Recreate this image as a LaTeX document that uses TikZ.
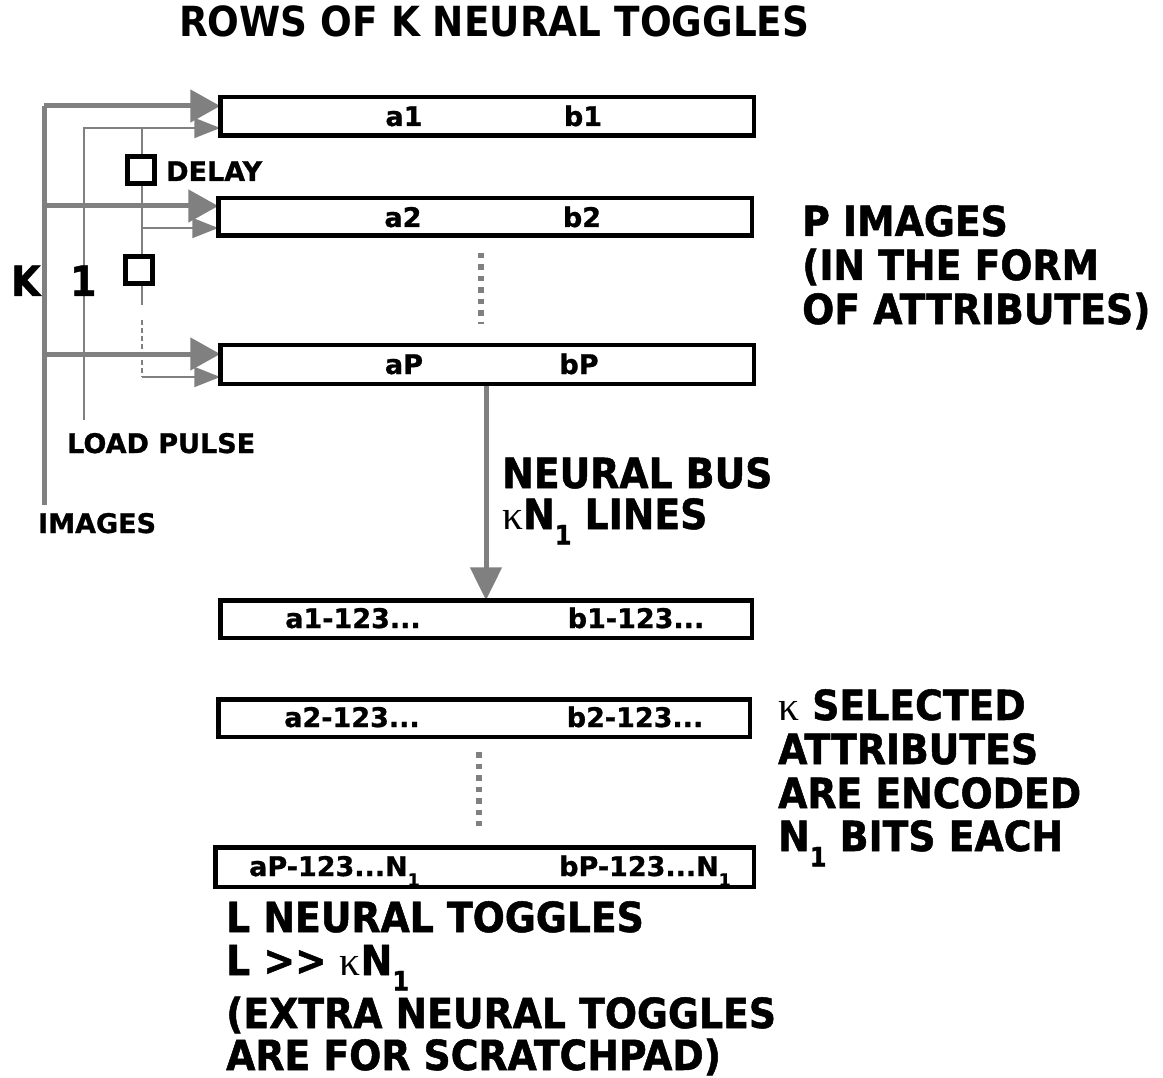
\documentclass[tikz,border=0pt]{standalone}
\usepackage{fontspec}
\usepackage{graphicx}
\setmainfont{DejaVu Sans}[FakeBold=1]
\newfontfamily\bigfont{DejaVu Sans}[FakeStretch=0.91,FakeBold=1.2]
\newfontfamily\titlefont{DejaVu Sans}[FakeStretch=0.9]
\newfontfamily\kapfont{Liberation Serif}
\usetikzlibrary{arrows.meta}
\definecolor{wire}{HTML}{808080}
\newcommand\kap{{\kapfont\mdseries κ}}
\newcommand\subone{\raisebox{-0.37em}{\scalebox{0.64}{1}}}
\tikzset{
  big/.style={font=\bigfont\bfseries\fontsize{41.5}{45}\selectfont, inner sep=0pt, anchor=base west},
  titlestyle/.style={font=\titlefont\bfseries\fontsize{41.5}{45}\selectfont, inner sep=0pt, anchor=base west},
  small/.style={font=\bfseries\fontsize{27}{30}\selectfont, inner sep=0pt},
  reg/.style={inner sep=0pt, outer sep=0pt},
  regline/.style={draw=black, line width=4.5pt, fill=white},
  delaybox/.style={draw=black, line width=5pt, fill=white, minimum size=27pt, inner sep=0pt, outer sep=0pt},
  thickwire/.style={draw=wire, line width=5pt},
  thinwire/.style={draw=wire, line width=2pt},
  bigtip/.style={-{Triangle[length=30pt,width=32pt]}, color=wire},
  smalltip/.style={-{Triangle[length=26pt,width=20pt]}, color=wire},
  bustip/.style={-{Triangle[length=33pt,width=31pt]}, color=wire},
  dotline/.style={draw=wire, line width=5.5pt, dash pattern=on 5.5pt off 6pt},
}
\begin{document}
\begin{tikzpicture}[x=1pt,y=-1pt]
\useasboundingbox (0,0) rectangle (1163,1078);

% coordinates for wires
\coordinate (kbot) at (44,505);
\coordinate (k1) at (44,106);
\coordinate (k2) at (44,206);
\coordinate (k3) at (44,354);
\coordinate (lbot) at (84,420);
\coordinate (l1) at (84,128);
\coordinate (c1) at (142,128);
\coordinate (c2) at (142,228);
\coordinate (c3) at (142,305);
\coordinate (c4) at (142,320);
\coordinate (c5) at (142,377);

% registers (placed first as nodes, drawn later on top)
\path node[reg, minimum width=533.5pt, minimum height=38.5pt] (r1) at (487,116.5) {}
      node[reg, minimum width=533.5pt, minimum height=37.5pt] (r2) at (485,217) {}
      node[reg, minimum width=533.5pt, minimum height=38.5pt] (r3) at (487,364.5) {}
      node[reg, minimum width=531.5pt, minimum height=37.5pt] (r4) at (486,619) {}
      node[reg, minimum width=531.5pt, minimum height=37.5pt] (r5) at (484,718) {}
      node[reg, minimum width=538.5pt, minimum height=39.5pt] (r6) at (484.5,867) {};

% images bus
\draw[thickwire] (kbot) -- (k1);
\draw[thickwire, bigtip] (k1) -- (k1 -| r1.west);
\draw[thickwire, bigtip] (k2) -- (k2 -| r2.west);
\draw[thickwire, bigtip] (k3) -- (k3 -| r3.west);

% load pulse
\draw[thinwire, smalltip] (lbot) -- (l1) -- (l1 -| r1.west);

% delay chain
\node[delaybox] (d1) at (141,170) {};
\node[delaybox] (d2) at (139,270) {};
\draw[thinwire] (c1) -- (d1.north -| c1);
\draw[thinwire] (d1.south -| c2) -- (c2);
\draw[thinwire, smalltip] (c2) -- (c2 -| r2.west);
\draw[thinwire] (c2) -- (d2.north -| c2);
\draw[thinwire] (d2.south -| c3) -- (c3);
\draw[thinwire, dash pattern=on 5pt off 3pt] (c4) -- (c5);
\draw[thinwire, smalltip] (c5) -- (c5 -| r3.west);
\node[delaybox] at (d1) {};
\node[delaybox] at (d2) {};

% neural bus
\coordinate (bx) at (486,0);
\draw[thickwire, bustip] (r3.south -| bx) -- (r4.north -| bx);

% dotted separators
\draw[dotline] (481,253) -- (481,324);
\draw[dotline] (479,752) -- (479,826);

% draw registers on top
\foreach \r in {r1,r2,r3,r4,r5,r6}{
  \draw[regline] (\r.south west) rectangle (\r.north east);
}

% register labels
\node[small, anchor=base] (ta1) at (404,126) {a1};
\node[small, anchor=base] (tb1) at (583,126) {b1};
\node[small, anchor=base] (ta2) at (403,227) {a2};
\node[small, anchor=base] (tb2) at (582,227) {b2};
\node[small, anchor=base] (taP) at (404,374) {aP};
\node[small, anchor=base] (tbP) at (579,374) {bP};
\node[small, anchor=base] (ua1) at (353,628) {a1-123...};
\node[small, anchor=base] (ub1) at (636,628) {b1-123...};
\node[small, anchor=base] (ua2) at (352,727) {a2-123...};
\node[small, anchor=base] (ub2) at (635,727) {b2-123...};
\node[small, anchor=base west] (uaP) at (249,876) {aP-123...N\subone};
\node[small, anchor=base west] (ubP) at (559,876) {bP-123...N\subone};

% other labels
\node[titlestyle] (title) at (179,37) {ROWS OF K NEURAL TOGGLES};
\node[big] (klab) at (11,296) {K};
\node[big] (onelab) at (70,296) {1};
\node[small, anchor=base west] (delaylab) at (166,181) {DELAY};
\node[small, anchor=base west] (loadlab) at (67,453) {LOAD PULSE};
\node[small, anchor=base west] (imglab) at (38,533) {IMAGES};

\node[big] (p1) at (802,236) {P IMAGES};
\node[big] (p2) at (802,280) {(IN THE FORM};
\node[big] (p3) at (802,324) {OF ATTRIBUTES)};

\node[big] (nb1) at (502,488) {NEURAL BUS};
\node[big] (nb2) at (502,529) {\kap N\subone{} LINES};

\node[big] (s1) at (778,720) {\kap{} SELECTED};
\node[big] (s2) at (778,764) {ATTRIBUTES};
\node[big] (s3) at (778,808) {ARE ENCODED};
\node[big] (s4) at (778,851) {N\subone{} BITS EACH};

\node[big] (l1t) at (226,932) {L NEURAL TOGGLES};
\node[big] (l2t) at (226,975) {L >> \kap N\subone};
\node[big] (l3t) at (226,1028) {(EXTRA NEURAL TOGGLES};
\node[big] (l4t) at (226,1070) {ARE FOR SCRATCHPAD)};
\end{tikzpicture}
\end{document}
